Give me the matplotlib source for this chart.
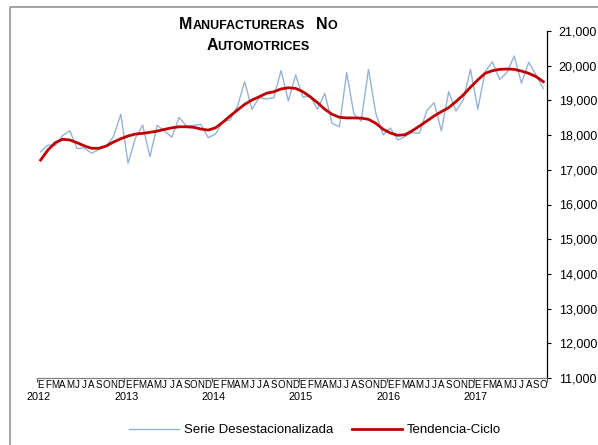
import matplotlib
matplotlib.use("Agg")
import matplotlib.pyplot as plt
from matplotlib.ticker import FuncFormatter
from matplotlib.lines import Line2D

plt.rcParams["font.family"] = ["Liberation Sans", "DejaVu Sans"]

# Monthly data, Jan 2012 - Oct 2017
month_letters = ["E", "F", "M", "A", "M", "J", "J", "A", "S", "O", "N", "D"]
years = ["2012", "2013", "2014", "2015", "2016", "2017"]

serie = [17520, 17715, 17695, 17985, 18125, 17610, 17635, 17475, 17590, 17685, 17955, 18600,
         17190, 17910, 18290, 17380, 18280, 18120, 17940, 18510, 18260, 18280, 18310, 17925,
         18030, 18385, 18435, 18820, 19540, 18745, 19080, 19040, 19080, 19860, 18985, 19735,
         19090, 19125, 18745, 19205, 18340, 18240, 19800, 18610, 18405, 19895, 18630, 18005,
         18205, 17860, 17955, 18070, 18050, 18705, 18935, 18120, 19250, 18695, 19010, 19895,
         18745, 19825, 20115, 19605, 19800, 20280, 19495, 20100, 19730, 19345]

tendencia = [17280, 17570, 17780, 17880, 17860, 17780, 17690, 17620, 17620, 17685, 17800, 17895,
             17975, 18030, 18050, 18080, 18115, 18165, 18210, 18240, 18240, 18225, 18175, 18145,
             18210, 18370, 18550, 18720, 18885, 19010, 19105, 19205, 19250, 19330, 19365, 19345,
             19250, 19105, 18935, 18745, 18600, 18515, 18495, 18495, 18490, 18455, 18340, 18170,
             18060, 17995, 18010, 18125, 18260, 18405, 18550, 18675, 18790, 18965, 19155, 19380,
             19590, 19780, 19855, 19895, 19905, 19895, 19845, 19780, 19685, 19540]

n = len(serie)
x = list(range(n))
month_labels = [month_letters[i % 12] for i in x]

W, H = 598, 445
fig = plt.figure(figsize=(W / 100, H / 100), dpi=100)
ax = fig.add_axes([37 / W, 1 - 378 / H, 510 / W, 347 / H])

ax.plot(x, serie, color="#95B3D7", lw=1.0, label="Serie Desestacionalizada")
ax.plot(x, tendencia, color="#C00000", lw=2.0, label="Tendencia-Ciclo")

ax.set_xlim(-0.5, n - 0.5)
ax.set_ylim(11000, 21000)
ax.set_yticks(range(11000, 21001, 1000))
ax.yaxis.tick_right()
ax.yaxis.set_major_formatter(FuncFormatter(lambda v, p: f"{int(v):,}"))
ax.tick_params(axis="y", length=3, width=0.8, labelsize=9, pad=5.5, colors="black")

ax.set_xticks(x)
ax.set_xticklabels(month_labels, fontsize=7)
ax.tick_params(axis="x", which="major", length=0, pad=1.5)
ax.set_xticks([-0.5] + [i * 12 - 0.5 for i in range(1, 6)] + [n - 0.5], minor=True)
ax.tick_params(axis="x", which="minor", length=3, width=0.8, color="#555555")

for i, yr in enumerate(years):
    ax.text(i * 12 - 0.25, -0.07, yr, transform=ax.get_xaxis_transform(),
            ha="center", va="bottom", fontsize=7.8)

for s in ["left", "top"]:
    ax.spines[s].set_visible(False)
ax.spines["right"].set_linewidth(0.9)
ax.spines["bottom"].set_color("#808080")
ax.spines["bottom"].set_linewidth(0.9)

# title in small caps
renderer = fig.canvas.get_renderer()

def small_caps(line, xc, y_px, big=11.5, small=9.0):
    parts = []
    for k, word in enumerate(line.split(" ")):
        if word == "":
            parts.append((" ", small))
            continue
        if k > 0:
            parts.append((" ", small))
        parts.append((word[0], big))
        if len(word) > 1:
            parts.append((word[1:].upper(), small))
    texts = []
    widths = []
    for s, fs in parts:
        t = fig.text(0, 0, s, fontsize=fs, fontweight="bold", ha="left",
                     va="baseline", transform=None)
        if s == " ":
            w = fs * 100 / 72 * 0.278
        else:
            w = t.get_window_extent(renderer).width
        texts.append(t)
        widths.append(w)
    x0 = xc - sum(widths) / 2
    for t, w in zip(texts, widths):
        t.set_position((x0, H - y_px))
        x0 += w

small_caps("Manufactureras   No", 258, 29)
small_caps("Automotrices", 258, 50)

# legend
fig.legend(handles=[Line2D([], [], color="#95B3D7", lw=1.0),
                    Line2D([], [], color="#C00000", lw=2.0)],
           labels=["Serie Desestacionalizada", "Tendencia-Ciclo"],
           loc="center", bbox_to_anchor=(315 / W, 1 - 430 / H), ncol=2, frameon=False,
           fontsize=9.5, handlelength=3.8, columnspacing=1.4, handletextpad=0.4)

# chart border (only top and left edges fall inside the picture)
fig.add_artist(Line2D([10 / W, 10 / W, 1], [0, 1 - 6.5 / H, 1 - 6.5 / H],
                      transform=fig.transFigure, color="#8C8C8C", lw=1.1))

fig.savefig("out.png", dpi=100)
